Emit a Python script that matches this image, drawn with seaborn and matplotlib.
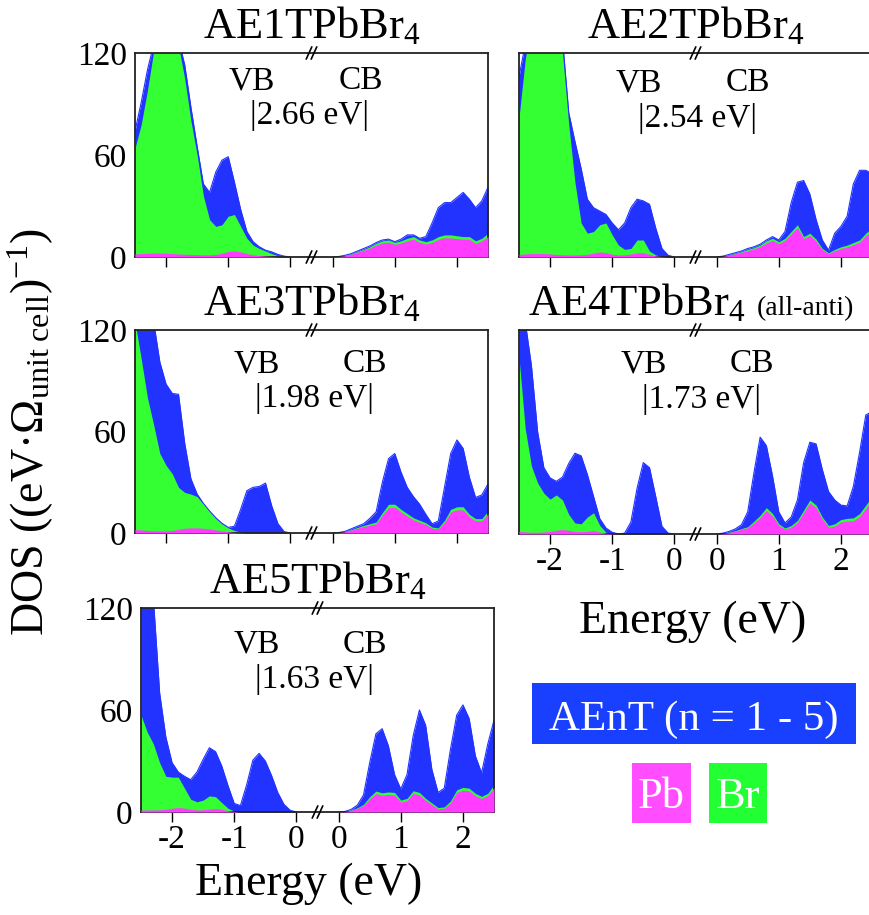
import numpy as np
import matplotlib
matplotlib.use("Agg")
import matplotlib.pyplot as plt
import matplotlib.transforms as mtransforms
from matplotlib.patches import Rectangle
import seaborn as sns

sns.set_theme(style="ticks")
plt.rcParams['font.family'] = ['Liberation Serif', 'DejaVu Serif']
plt.rcParams['mathtext.fontset'] = 'custom'
plt.rcParams['mathtext.rm'] = 'Liberation Serif'
plt.rcParams['mathtext.it'] = 'Liberation Serif:italic'
plt.rcParams['mathtext.bf'] = 'Liberation Serif:bold'
plt.rcParams['text.color'] = 'black'
plt.rcParams['axes.labelcolor'] = 'black'
plt.rcParams['xtick.color'] = 'black'
plt.rcParams['ytick.color'] = 'black'
plt.rcParams['xtick.labelcolor'] = 'black'
plt.rcParams['ytick.labelcolor'] = 'black'

# ---------------- data ----------------
energy_vb = np.round(np.linspace(-2.5, 0.0, 26), 2)
energy_cb = np.round(np.linspace(0.0, 2.5, 26), 2)

titles = ["AE1TPbBr", "AE2TPbBr", "AE3TPbBr", "AE4TPbBr", "AE5TPbBr"]
gaps = ["2.66", "2.54", "1.98", "1.73", "1.63"]

ae1_vb_total = [74, 91, 110, 125, 135, 140, 138, 128, 113, 88, 65, 43, 38, 50, 57, 59, 44, 28, 15, 9, 6, 4, 3, 1.5, 0.5, 0]
ae1_vb_br = [64, 78, 98, 121, 132, 136, 134, 124, 105, 80, 60, 36, 22, 18, 19, 24, 25, 18, 11, 7, 5, 3.5, 2, 0.8, 0.2, 0]
ae1_vb_pb = [1.8, 2, 2.2, 2.3, 2.3, 2.2, 2.0, 1.8, 1.6, 1.5, 1.4, 1.3, 1.3, 1.5, 2.2, 3.2, 3.6, 3.0, 2.0, 1.3, 0.8, 0.5, 0.3, 0.1, 0, 0]
ae1_cb_total = [0, 0.3, 1, 2, 3.5, 5, 6.5, 8.5, 10, 10.5, 9, 10.5, 13, 13, 11, 12, 20, 29, 32, 32, 35, 38, 34, 29, 33, 41]
ae1_cb_br = [0, 0.2, 0.8, 1.8, 3.2, 4.5, 6, 8, 9.5, 10, 8.6, 9.5, 11, 12, 10, 9, 10, 12, 13, 13, 12.5, 12, 12, 9.5, 11, 14]
ae1_cb_pb = [0, 0.2, 0.7, 1.6, 2.8, 4, 5.3, 7, 8.3, 8.7, 7.4, 8.2, 9.6, 10.5, 8.6, 7.6, 8.5, 10.3, 11.3, 11.2, 10.8, 10.4, 10.4, 8, 9.4, 12]

ae2_vb_total = [106, 125, 145, 155, 158, 158, 152, 128, 85, 68, 52, 34, 29, 27, 25, 20, 16, 20, 29, 34, 33, 31, 17, 5, 1, 0]
ae2_vb_br = [82, 116, 140, 150, 150, 148, 140, 120, 78, 44, 20, 14, 15, 19, 20, 13, 7, 4.5, 5, 10, 10, 3.5, 1.2, 0.3, 0, 0]
ae2_vb_pb = [1.5, 1.8, 2, 2, 2, 1.8, 1.5, 1.3, 1.2, 1.2, 1.3, 1.6, 2.3, 3, 2.5, 1.6, 1.2, 1.3, 1.8, 2.4, 2.5, 1.5, 0.6, 0.2, 0, 0]
ae2_cb_total = [0, 0.5, 1.5, 2.5, 3.5, 5, 6, 7.5, 10, 12, 10, 15, 32, 44, 45, 37, 22, 10, 4, 14, 18, 24, 43, 51, 51, 49]
ae2_cb_br = [0, 0.4, 1.2, 2.2, 3.2, 4.5, 5.5, 7, 9.5, 11, 9, 11, 15, 19, 12, 14, 10.5, 5, 2.5, 4.5, 6, 7, 8.5, 10, 14, 17]
ae2_cb_pb = [0, 0.3, 1, 1.9, 2.8, 3.8, 4.8, 6.2, 8.3, 9.8, 7.9, 9.8, 13.5, 17.3, 10.8, 12.7, 9.2, 4.2, 2, 3.7, 5, 5.9, 7.3, 8.7, 12.5, 15.2]

ae3_vb_total = [160, 150, 135, 125, 101, 88, 82.5, 82, 53, 32, 23, 17.5, 13, 9, 5.7, 3.3, 4, 14, 25, 27, 27.5, 29.5, 16, 5.5, 0.8, 0]
ae3_vb_br = [125, 103, 80, 64, 47, 40, 35, 27, 24, 23, 21.5, 17, 12.5, 8.5, 5.3, 3, 1.5, 0.5, 0, 0, 0, 0, 0, 0, 0, 0]
ae3_vb_pb = [2, 1.8, 1.5, 1.3, 1.2, 1.2, 1.5, 2.2, 2.8, 3, 3, 2.8, 2.4, 1.8, 1.2, 0.7, 0.3, 0.1, 0, 0, 0, 0, 0, 0, 0, 0]
ae3_cb_total = [0, 0.3, 1, 2.5, 4, 5.5, 8.7, 12.5, 30, 44, 47, 36, 27, 21.5, 17, 11, 5.5, 7, 27, 47, 55, 50, 33, 21, 22.5, 29]
ae3_cb_br = [0, 0.2, 0.8, 2, 3.3, 4.5, 5.5, 6.5, 12, 17, 17, 14, 11.5, 9, 7.5, 6, 3.5, 3, 7.5, 14, 15.5, 15.5, 11, 8.5, 8.5, 13]
ae3_cb_pb = [0, 0.2, 0.7, 1.7, 2.8, 3.8, 4.7, 5.5, 10.5, 15, 15.2, 12.4, 10, 7.7, 6.3, 5, 2.8, 2.4, 6.3, 12.3, 13.7, 13.6, 9.5, 7.2, 7.2, 11.3]

ae4_vb_total = [160, 125, 99, 60, 39, 33, 31, 33.5, 41.5, 47.5, 46, 35, 22, 9, 3.5, 1, 0, 0.5, 7, 27, 42, 39, 22, 4.5, 0.5, 0]
ae4_vb_br = [104, 62, 40, 30, 24, 20.5, 23, 20, 11.5, 6.5, 6, 10, 12.5, 5, 1, 0.2, 0, 0, 0, 0, 0, 0, 0, 0, 0, 0]
ae4_vb_pb = [1.5, 1.2, 1, 1, 1.2, 1.5, 2.2, 2.6, 2.2, 1.5, 1.3, 1.6, 2, 1.2, 0.4, 0.1, 0, 0, 0, 0, 0, 0, 0, 0, 0, 0]
ae4_cb_total = [0, 0.5, 1.5, 3, 5.5, 13, 36, 57, 52, 34, 13, 6.5, 10, 20, 42, 54, 53, 38, 25, 20, 17, 16.5, 28, 48, 70, 72]
ae4_cb_br = [0, 0.3, 1, 2, 3.2, 4.3, 7.5, 11, 15.5, 12, 6, 3.5, 5, 8, 14, 20, 17, 10, 5, 6, 8.5, 9.2, 9.5, 12, 17, 22]
ae4_cb_pb = [0, 0.2, 0.8, 1.7, 2.8, 3.7, 6.4, 9.6, 13.8, 10.5, 5, 2.8, 4, 6.8, 12.5, 18.3, 15.5, 8.7, 4, 4.7, 7, 7.6, 7.8, 10.2, 15, 20]

ae5_vb_total = [170, 150, 125, 70, 44, 29, 23.5, 21, 19, 23.5, 31, 37.8, 35.5, 27, 15.5, 5, 3.8, 16, 30.5, 34.5, 30, 21.5, 11.5, 4.5, 1, 0]
ae5_vb_br = [57, 47, 40, 29, 21, 20.5, 20.5, 14, 7.5, 6, 7, 9.5, 9, 5.5, 2.2, 0.5, 0, 0, 0, 0, 0, 0, 0, 0, 0, 0]
ae5_vb_pb = [1.2, 1.2, 1.2, 1.3, 1.6, 2.2, 2.6, 2.3, 1.6, 1.2, 1.3, 1.8, 2, 1.6, 0.8, 0.3, 0, 0, 0, 0, 0, 0, 0, 0, 0, 0]
ae5_cb_total = [0, 0.3, 1.5, 4, 10, 29, 46, 49, 39, 22, 13.5, 22, 45, 60, 51, 25, 11.5, 14, 37, 57, 63, 55, 33, 23, 40, 54]
ae5_cb_br = [0, 0.3, 1.2, 2.5, 4.5, 9, 12.3, 11.3, 11.8, 11.5, 7, 8, 12.5, 11.5, 8, 5.3, 2.6, 3, 6.5, 13, 14.5, 14, 11, 9.2, 11, 16]
ae5_cb_pb = [0, 0.2, 1, 2.1, 3.8, 7.8, 10.8, 9.8, 10.3, 10, 5.8, 6.7, 11, 10, 6.8, 4.3, 1.8, 2.2, 5.3, 11.5, 12.8, 12.4, 9.6, 7.9, 9.6, 14.3]

panels = [
    (ae1_vb_total, ae1_vb_br, ae1_vb_pb, ae1_cb_total, ae1_cb_br, ae1_cb_pb),
    (ae2_vb_total, ae2_vb_br, ae2_vb_pb, ae2_cb_total, ae2_cb_br, ae2_cb_pb),
    (ae3_vb_total, ae3_vb_br, ae3_vb_pb, ae3_cb_total, ae3_cb_br, ae3_cb_pb),
    (ae4_vb_total, ae4_vb_br, ae4_vb_pb, ae4_cb_total, ae4_cb_br, ae4_cb_pb),
    (ae5_vb_total, ae5_vb_br, ae5_vb_pb, ae5_cb_total, ae5_cb_br, ae5_cb_pb),
]

xtick_vals = [-2, -1, 0, 0, 1, 2]
xtick_labels = ["-2", "-1", "0", "0", "1", "2"]
ytick_vals = [0, 60, 120]

# ---------------- style / layout ----------------
BLUE = "#2233ff"
GREEN = "#33ff33"
PINK = "#ff3cff"
SHIFT = 0.68          # visual gap inserted between VB and CB halves
W, H = 870, 915

fig = plt.figure(figsize=(W / 100, H / 100), dpi=100)

# axes boxes in pixels: (left, top, bottom)
boxes = [(135, 53, 257), (519, 53, 257), (135, 330, 533), (519, 330, 534), (141, 608, 812)]
show_xlabels = [False, False, False, True, True]
show_ylabels = [True, False, True, False, True]
vb_pos = [(0.331, 0.863), (0.340, 0.853), (0.345, 0.833), (0.354, 0.833), (0.329, 0.82)]
cb_pos = [(0.640, 0.863), (0.649, 0.853), (0.652, 0.833), (0.660, 0.833), (0.635, 0.82)]
gap_pos = [(0.493, 0.696), (0.507, 0.68), (0.507, 0.665), (0.518, 0.66), (0.491, 0.65)]

TXT = 24

for i, (box, data) in enumerate(zip(boxes, panels)):
    left, top, bottom = box
    ax = fig.add_axes([left / W, 1 - bottom / H, 353 / W, (bottom - top) / H])
    vb_t, vb_b, vb_p, cb_t, cb_b, cb_p = data
    for E, shift, tot, br, pb in [(energy_vb, 0.0, vb_t, vb_b, vb_p),
                                  (energy_cb, SHIFT, cb_t, cb_b, cb_p)]:
        p = E + shift
        ax.fill_between(p, 0, tot, color=BLUE, lw=0, zorder=1)
        sns.lineplot(x=p, y=tot, ax=ax, color=BLUE, lw=0.8, sort=False, zorder=1.5)
        ax.fill_between(p, 0, br, color=GREEN, lw=0, zorder=2)
        ax.fill_between(p, 0, pb, color=PINK, lw=0, zorder=3)

    ax.set_xlim(-2.5, 2.5 + SHIFT)
    ax.set_ylim(0, 120)
    ax.set_xticks([v if k < 3 else v + SHIFT for k, v in enumerate(xtick_vals)])
    ax.set_yticks(ytick_vals)
    ax.set_xlabel("")
    ax.set_ylabel("")
    if show_xlabels[i]:
        ax.set_xticklabels(xtick_labels)
    else:
        ax.set_xticklabels([])
    if show_ylabels[i]:
        ax.set_yticklabels([str(v) for v in ytick_vals])
    else:
        ax.set_yticklabels([])
    ax.tick_params(axis='x', direction='out', length=7, width=1.0, labelsize=TXT,
                   pad=2, colors='black', labelcolor='black')
    ax.tick_params(axis='y', length=0, labelsize=TXT, pad=6, colors='black',
                   labelcolor='black')
    for sp in ax.spines.values():
        sp.set_visible(True)
        sp.set_linewidth(1.3)
        sp.set_color("#222222")

    # break marks
    trans = mtransforms.blended_transform_factory(ax.transData, ax.transAxes)
    for yb in (0.0, 1.0):
        for xc in (SHIFT / 2 - 0.04, SHIFT / 2 + 0.04):
            ax.plot([xc - 0.045, xc + 0.045], [yb - 0.03, yb + 0.03], transform=trans,
                    color="black", lw=1.2, clip_on=False, zorder=10)

    ax.text(*vb_pos[i], "VB", transform=ax.transAxes, ha='center', va='center',
            fontsize=TXT, color='black')
    ax.text(*cb_pos[i], "CB", transform=ax.transAxes, ha='center', va='center',
            fontsize=TXT, color='black')
    ax.text(*gap_pos[i], "|" + gaps[i] + " eV|", transform=ax.transAxes,
            ha='center', va='center', fontsize=TXT, color='black')

    title = titles[i] + r"$_\mathregular{4}$"
    if i == 3:
        fig.text(528 / W, 1 - 315 / H, title, ha='left', va='baseline', fontsize=32,
                 color='black')
        fig.text(757 / W, 1 - 315 / H, "(all-anti)", ha='left', va='baseline',
                 fontsize=20, color='black')
    else:
        ax.text(0.5, 1.075, title, transform=ax.transAxes, ha='center', va='baseline',
                fontsize=32, color='black')

# axis labels
fig.text(31 / W, 1 - 432 / H,
         r"DOS ((eV·Ω$_\mathregular{unit\ cell}$)$^\mathregular{-1}$)",
         rotation=90, ha='center', va='center', fontsize=33, color='black')
fig.text(693 / W, 1 - 633 / H, "Energy (eV)", ha='center', va='baseline', fontsize=33,
         color='black')
fig.text(309 / W, 1 - 895 / H, "Energy (eV)", ha='center', va='baseline', fontsize=33,
         color='black')

# legend boxes
legend_items = [("AEnT (n = 1 - 5)", "#1a40ff", 532, 683, 324, 61, 730),
                ("Pb", "#ff4dff", 632, 763, 59, 60, 808),
                ("Br", "#22ff33", 709, 763, 58, 60, 808)]
for label, col, x0, y0, w, h, base in legend_items:
    fig.patches.append(Rectangle((x0 / W, 1 - (y0 + h) / H), w / W, h / H,
                                 transform=fig.transFigure, facecolor=col,
                                 edgecolor='none', zorder=0))
    fig.text((x0 + w / 2) / W, 1 - base / H, label, color='white', ha='center',
             va='baseline', fontsize=31 if len(label) > 2 else 32, zorder=5)

fig.savefig("out.png", dpi=100, facecolor='white')
